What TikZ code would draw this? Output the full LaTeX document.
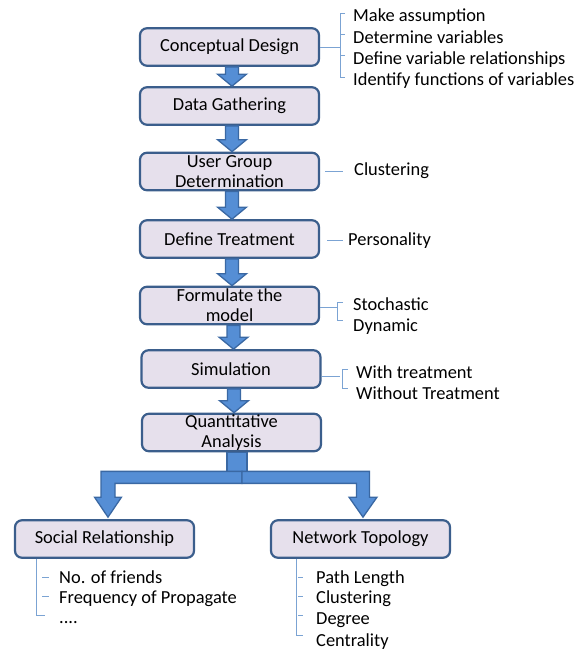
\documentclass[tikz,border=0pt]{standalone}
\usepackage{fontspec}
\setmainfont{Carlito}
\usetikzlibrary{calc}
\definecolor{boxfill}{HTML}{E6E0EC}
\definecolor{boxline}{HTML}{3B5E8C}
\definecolor{arrowfill}{HTML}{558ED5}
\definecolor{arrowline}{HTML}{3A68A3}
\definecolor{bracketline}{HTML}{7BA3D3}
\tikzset{
stage/.style={draw=boxline, line width=2.2pt, fill=boxfill, rounded corners=7pt,
  minimum width=179pt, minimum height=37.5pt, align=center, inner sep=0pt,
  font=\fontsize{18.4}{20}\selectfont},
item/.style={anchor=west, inner sep=0pt, text height=14pt, text depth=1pt,
  font=\fontsize{18.4}{20}\selectfont},
arrowbody/.style={draw=arrowline, fill=arrowfill, line width=1.3pt, line join=miter},
bracket/.style={draw=bracketline, line width=0.9pt}
}
% block arrow from the bottom of #1 to the top of #2
\newcommand{\flowarrow}[2]{%
  \coordinate (tip) at ($(#2.north)+(2.5,0)$);
  \coordinate (tail) at (tip |- #1.south);
  \draw[arrowbody] ($(tail)+(-6.5,0)$) -- ($(tip)+(-6.5,-12)$) -- ($(tip)+(-14.5,-12)$) --
    (tip) -- ($(tip)+(14.5,-12)$) -- ($(tip)+(6.5,-12)$) -- ($(tail)+(6.5,0)$) -- cycle;}

\begin{document}
\begin{tikzpicture}[x=1pt,y=-1pt]
\useasboundingbox (0,0) rectangle (577,653);
% stages
\node[stage] (cd) at (229.5,47) {Conceptual Design};
\node[stage] (dg) at (229.5,106) {Data Gathering};
\node[stage] (ug) at (229.5,171.5) {User Group\\Determination};
\node[stage] (dt) at (229.5,239) {Define Treatment};
\node[stage] (fm) at (229.5,305.5) {Formulate the\\model};
\node[stage] (sim) at (231,369) {Simulation};
\node[stage] (qa) at (231.5,432.5) {Quantitative\\Analysis};
\node[stage] (sr) at (104.5,539) {Social Relationship};
\node[stage] (nt) at (360.5,539) {Network Topology};

\flowarrow{cd}{dg}
\flowarrow{dg}{ug}
\flowarrow{ug}{dt}
\flowarrow{dt}{fm}
\flowarrow{fm}{sim}
\flowarrow{sim}{qa}

% split below the analysis
\coordinate (fork) at ($(qa.south)+(10.5,19)$);
\coordinate (srtip) at ($(sr.north)+(3.5,-2)$);
\coordinate (nttip) at ($(nt.north)+(2.5,-2)$);
\draw[arrowbody] ($(qa.south)+(-4.5,0)$) rectangle ($(qa.south)+(15.5,19)$);
\draw[arrowbody] (fork) -- ($(fork -| srtip)+(-7,0)$) -- ($(srtip)+(-7,-20)$) --
  ($(srtip)+(-13.5,-20)$) -- (srtip) -- ($(srtip)+(13.5,-20)$) -- ($(srtip)+(7,-20)$) --
  ($(fork -| srtip)+(7,12)$) -- ($(fork)+(0,12)$) -- cycle;
\draw[arrowbody] (fork) -- ($(fork -| nttip)+(6.5,0)$) -- ($(nttip)+(6.5,-20)$) --
  ($(nttip)+(14,-20)$) -- (nttip) -- ($(nttip)+(-14,-20)$) -- ($(nttip)+(-6.5,-20)$) --
  ($(fork -| nttip)+(-6.5,12)$) -- ($(fork)+(0,12)$) -- cycle;

% notes on the right
\node[item] (m1) at (353,15) {Make assumption};
\node[item] (m2) at (353,36.5) {Determine variables};
\node[item] (m3) at (353,57.5) {Define variable relationships};
\node[item] (m4) at (353,79) {Identify functions of variables};
\draw[bracket] (cd.east) -- ($(cd.east -| m1.west)+(-13,0)$);
\draw[bracket] ($(m1.west)+(-8,-2)$) -- ($(m1.west)+(-13,-2)$) --
  ($(m4.west)+(-13,-2)$) -- ($(m4.west)+(-8,-2)$);
\draw[bracket] ($(m2.west)+(-13,-2)$) -- ++(5,0);
\draw[bracket] ($(m3.west)+(-13,-2)$) -- ++(5,0);

\node[item] (cl) at (354,169) {Clustering};
\draw[bracket] ($(ug.east)+(5,0)$) -- ($(cl.west |- ug.east)+(-11,0)$);

\node[item] (pe) at (348,239) {Personality};
\draw[bracket] ($(dt.east)+(7,1)$) -- ($(pe.west |- dt.east)+(-5,1)$);

\node[item] (st) at (353,304) {Stochastic};
\node[item] (dy) at (353,325) {Dynamic};
\draw[bracket] ($(fm.east)+(0,2)$) -- ($(st.west |- fm.east)+(-16,2)$);
\draw[bracket] ($(st.west)+(-10,-2)$) -- ($(st.west)+(-16,-2)$) --
  ($(st.west)+(-16,16)$) -- ($(st.west)+(-10,16)$);

\node[item] (wt) at (356,372) {With treatment};
\node[item] (wo) at (356,393) {Without Treatment};
\draw[bracket] ($(sim.east |- wt.west)+(0,4)$) -- ($(wt.west)+(-16,4)$);
\draw[bracket] ($(wt.west)+(-8,-3)$) -- ($(wt.west)+(-14,-3)$) --
  ($(wt.west)+(-14,16)$) -- ($(wt.west)+(-8,16)$);

% notes below
\node[item] (s1) at (59,577) {No. of friends};
\node[item] (s2) at (59,597) {Frequency of Propagate};
\node[item] (s3) at (59,617) {....};
\draw[bracket] ($(sr.south west)+(23,0)$) |- ($(s3.west)+(-14,-2)$);
\draw[bracket] ($(s1.west)+(-17,0)$) -- ++(7,0);
\draw[bracket] ($(s2.west)+(-17,-1)$) -- ++(7,0);

\node[item] (n1) at (316,577) {Path Length};
\node[item] (n2) at (316,597) {Clustering};
\node[item] (n3) at (316,618) {Degree};
\node[item] (n4) at (316,640) {Centrality};
\draw[bracket] ($(nt.south west)+(27,0)$) |- ($(n4.west)+(-13,-5)$);
\draw[bracket] ($(n1.west)+(-18,0)$) -- ++(5,0);
\draw[bracket] ($(n2.west)+(-18,-1)$) -- ++(5,0);
\draw[bracket] ($(n3.west)+(-18,-3)$) -- ++(5,0);
\end{tikzpicture}
\end{document}
